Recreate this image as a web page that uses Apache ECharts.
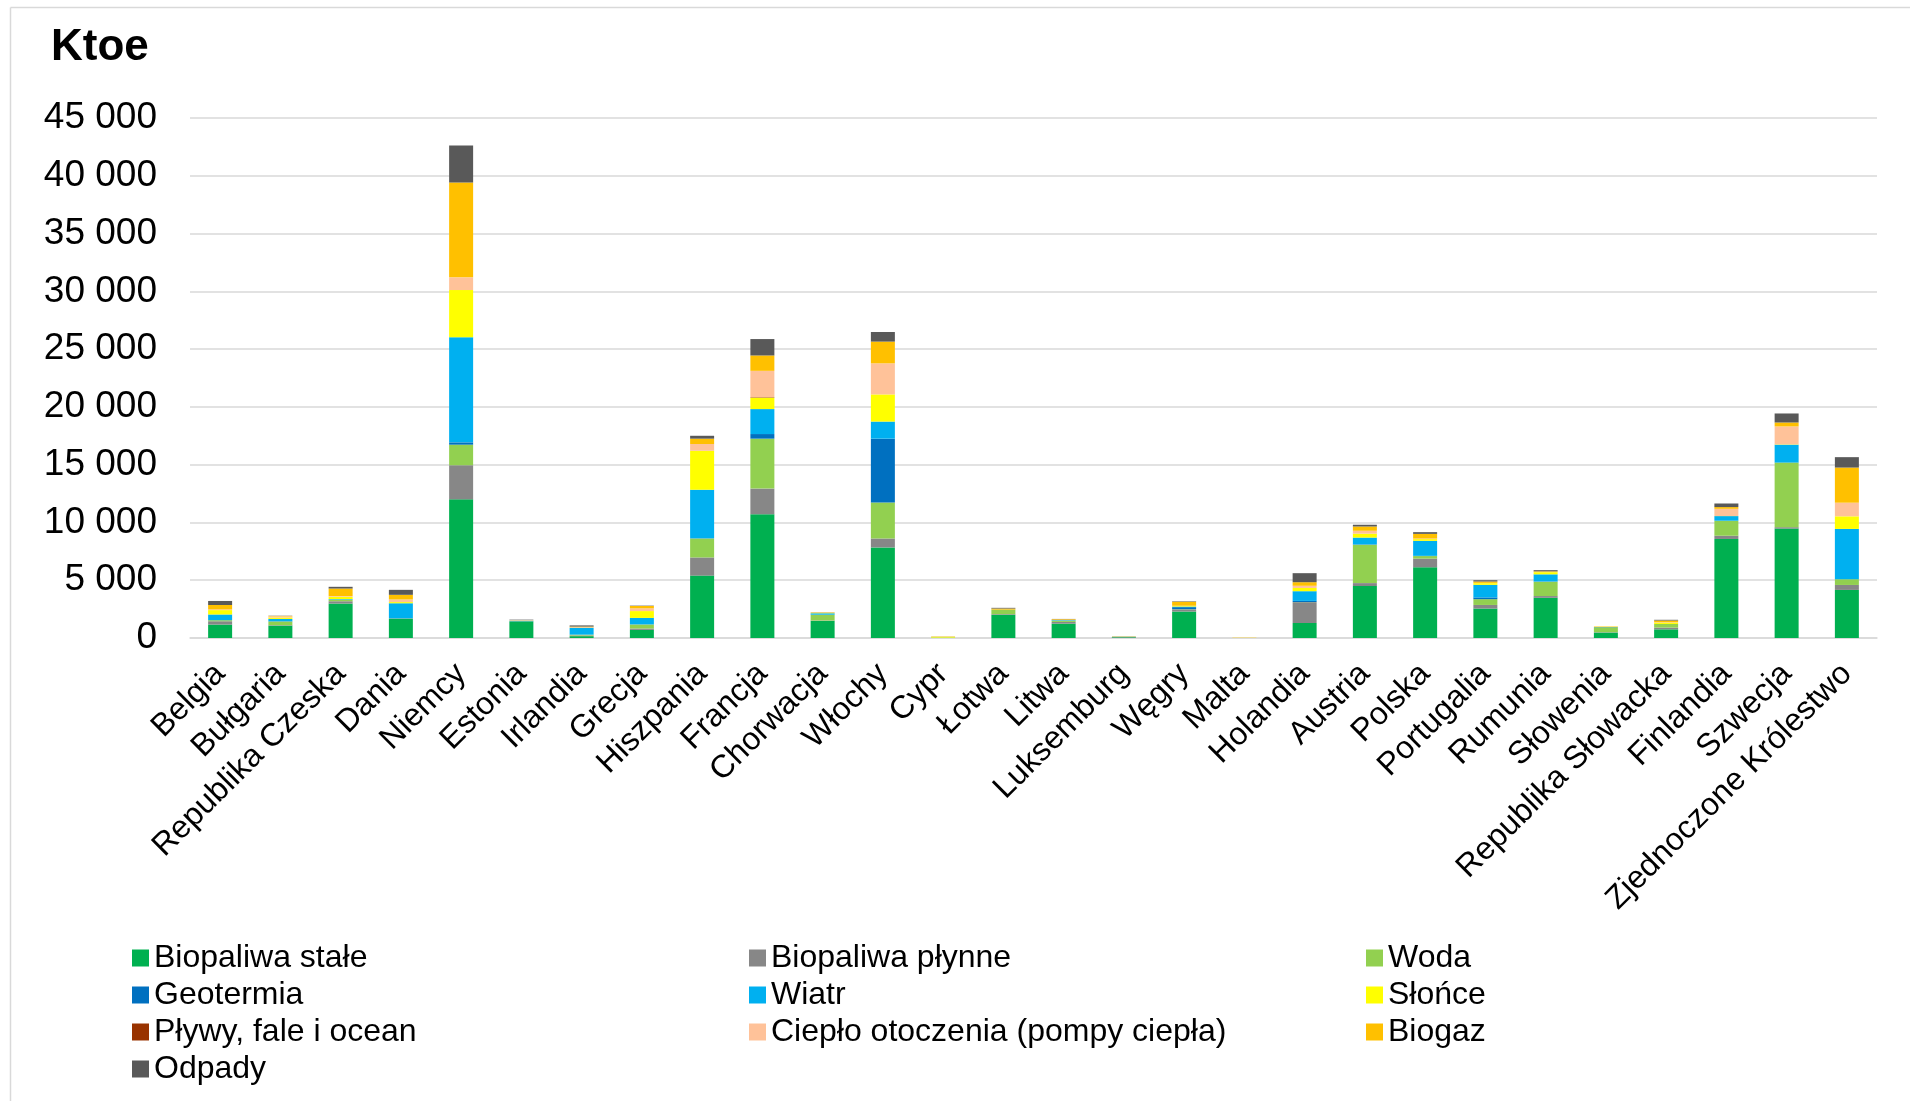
<!DOCTYPE html>
<html>
<head>
<meta charset="utf-8">
<script src="https://cdn.jsdelivr.net/npm/echarts@6/dist/echarts.min.js"></script>
<style>
html,body{margin:0;padding:0;background:#fff;}
#chart{width:1910px;height:1103px;}
</style>
</head>
<body>
<div id="chart"></div>
<script>
const categories = ['Belgia','Bułgaria','Republika Czeska','Dania','Niemcy','Estonia','Irlandia','Grecja','Hiszpania','Francja','Chorwacja','Włochy','Cypr','Łotwa','Litwa','Luksemburg','Węgry','Malta','Holandia','Austria','Polska','Portugalia','Rumunia','Słowenia','Republika Słowacka','Finlandia','Szwecja','Zjednoczone Królestwo'];

const biopaliwaStale = [1160,1070,2980,1680,12000,1440,160,700,5400,10710,1480,7840,10,2000,1240,60,2290,0,1300,4500,6120,2550,3480,470,750,8570,9470,4160];
const biopaliwaPlynne = [290,40,200,20,2950,10,60,120,1570,2220,30,770,0,60,150,30,180,0,1800,250,750,310,150,30,150,280,120,430];
const woda = [90,320,140,2,1780,3,70,350,1640,4320,500,3120,0,380,90,10,20,0,10,3320,220,500,1240,430,310,1300,5590,500];
const geotermia = [5,20,0,5,200,0,0,10,20,400,10,5520,0,0,0,0,180,0,100,30,20,150,20,20,5,0,0,0];
const wiatr = [490,200,50,1300,9100,50,590,560,4210,2160,120,1480,20,10,60,10,50,0,840,590,1300,1090,620,0,0,400,1550,4350];
const slonce = [380,120,200,100,4080,0,10,590,3360,990,30,2350,80,0,10,10,50,20,280,340,150,150,190,30,120,10,30,1090];
const plywy = [0,0,0,0,0,0,0,0,0,40,0,0,0,0,0,0,0,0,0,0,0,0,0,0,0,0,0,0];
const cieplo = [60,100,60,230,1100,40,50,240,590,2280,0,2690,20,0,20,5,20,20,190,250,50,20,20,20,30,620,1550,1180];
const biogaz = [380,40,650,400,8200,15,50,200,460,1330,40,1880,15,100,60,15,350,5,310,370,400,120,50,20,150,150,340,3040];
const odpady = [350,20,150,430,3200,30,100,30,250,1420,10,830,5,60,20,10,40,0,780,150,150,110,100,0,60,310,780,900];

const yTicks = [0,5000,10000,15000,20000,25000,30000,35000,40000,45000];

const seriesDefs = [
  ['Biopaliwa stałe', biopaliwaStale, '#00B050'],
  ['Biopaliwa płynne', biopaliwaPlynne, '#878787'],
  ['Woda', woda, '#92D050'],
  ['Geotermia', geotermia, '#0070C0'],
  ['Wiatr', wiatr, '#00B0F0'],
  ['Słońce', slonce, '#FFFF00'],
  ['Pływy, fale i ocean', plywy, '#993300'],
  ['Ciepło otoczenia (pompy ciepła)', cieplo, '#FFC299'],
  ['Biogaz', biogaz, '#FFC000'],
  ['Odpady', odpady, '#595959']
];

const FONT = "'Liberation Sans', Arial, sans-serif";
const chart = echarts.init(document.getElementById('chart'), null, {renderer:'canvas'});

function fmt(v){ return String(v).replace(/\B(?=(\d{3})+(?!\d))/g, ' '); }

const legendStyle = {
  orient: 'vertical',
  top: 937,
  itemWidth: 17,
  itemHeight: 17,
  itemGap: 5,
  icon: 'rect',
  textStyle: {fontFamily: FONT, fontSize: 32, color: '#000', lineHeight: 30}
};

const option = {
  animation: false,
  backgroundColor: '#fff',
  title: {
    text: 'Ktoe', left: 46, top: 21,
    textStyle: {fontFamily: FONT, fontSize: 44, fontWeight: 'bold', color: '#000'}
  },
  grid: {left: 190, right: 33, top: 118, bottom: 465, containLabel: false},
  xAxis: {
    type: 'category',
    data: categories,
    axisLine: {show: true, lineStyle: {color: '#d9d9d9', width: 1.5}},
    axisTick: {show: false},
    axisLabel: {interval: 0, rotate: 45, margin: 31, fontFamily: FONT, fontSize: 32, color: '#000'}
  },
  yAxis: {
    type: 'value',
    min: yTicks[0], max: yTicks[yTicks.length-1], interval: 5000,
    axisLine: {show: false},
    axisTick: {show: false},
    splitLine: {lineStyle: {color: '#d9d9d9', width: 1.5}},
    axisLabel: {margin: 33, fontFamily: FONT, fontSize: 37, color: '#000', formatter: fmt}
  },
  legend: [
    Object.assign({left: 127, data: ['Biopaliwa stałe','Geotermia','Pływy, fale i ocean','Odpady']}, legendStyle),
    Object.assign({left: 744, data: ['Biopaliwa płynne','Wiatr','Ciepło otoczenia (pompy ciepła)']}, legendStyle),
    Object.assign({left: 1361, data: ['Woda','Słońce','Biogaz']}, legendStyle)
  ],
  graphic: [
    {type: 'line', shape: {x1: 10.5, y1: 7.5, x2: 1910, y2: 7.5}, style: {stroke: '#d9d9d9', lineWidth: 1.5}, silent: true},
    {type: 'line', shape: {x1: 10.5, y1: 7.5, x2: 10.5, y2: 1101}, style: {stroke: '#d9d9d9', lineWidth: 1.5}, silent: true}
  ],
  series: seriesDefs.map(d => ({
    name: d[0],
    type: 'bar',
    stack: 'total',
    barWidth: 24,
    data: d[1],
    itemStyle: {color: d[2]},
    emphasis: {disabled: true}
  }))
};
chart.setOption(option);
</script>
</body>
</html>
